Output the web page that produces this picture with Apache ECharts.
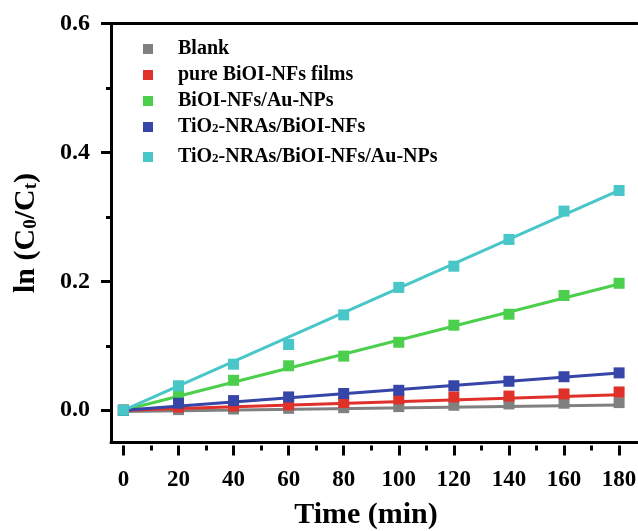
<!DOCTYPE html>
<html>
<head>
<meta charset="utf-8" />
<title>ln(C0/Ct)</title>
<script src="https://cdn.jsdelivr.net/npm/echarts@6/dist/echarts.min.js"></script>
</head>
<body style="margin:0;">
<div id="main" style="width:638px;height:531px;"></div>
<script type="text/javascript">
// time axis (min)
var times = [0, 20, 40, 60, 80, 100, 120, 140, 160, 180];
var xMajor = [0, 20, 40, 60, 80, 100, 120, 140, 160, 180];
var xMinor = [10, 30, 50, 70, 90, 110, 130, 150, 170];
var yMajor = [0, 0.2, 0.4, 0.6];
var yMinor = [0.1, 0.3, 0.5];

var names = ['Blank', 'pure BiOI-NFs films', 'BiOI-NFs/Au-NPs', 'TiO2-NRAs/BiOI-NFs', 'TiO2-NRAs/BiOI-NFs/Au-NPs'];
var colors = ['#808080', '#e0302a', '#4bcf4d', '#3645a8', '#48c6c8'];

// measured points
var blank = [0, 0.001, 0.002, 0.003, 0.004, 0.0057, 0.0078, 0.0098, 0.0109, 0.0119];
var pureBiOI = [0, 0.005, 0.0067, 0.0085, 0.012, 0.0176, 0.0207, 0.022, 0.0253, 0.0284];
var biOIAu = [0, 0.025, 0.0465, 0.069, 0.084, 0.1055, 0.132, 0.149, 0.178, 0.197];
var tiO2BiOI = [0, 0.011, 0.015, 0.0207, 0.026, 0.031, 0.038, 0.045, 0.052, 0.058];
var tiO2BiOIAu = [0, 0.038, 0.0715, 0.102, 0.148, 0.1906, 0.2235, 0.265, 0.309, 0.341];

// fitted lines, value at t=0 and t=180
var fitX = [0, 180];
var blankFit = [-0.002, 0.008];
var pureBiOIFit = [0, 0.024];
var biOIAuFit = [0, 0.196];
var tiO2BiOIFit = [0, 0.058];
var tiO2BiOIAuFit = [0, 0.341];

var allPoints = [blank, pureBiOI, biOIAu, tiO2BiOI, tiO2BiOIAu];
var allFits = [blankFit, pureBiOIFit, biOIAuFit, tiO2BiOIFit, tiO2BiOIAuFit];

var font = 'Liberation Serif';
var xMin = -4.5, xMax = 186.5, yMin = -0.05, yMax = 0.6;

var series = [];
for (var i = 0; i < names.length; i++) {
	var pts = [];
	for (var j = 0; j < times.length; j++) {
		pts.push([times[j], allPoints[i][j]]);
	}
	var fit = [];
	for (var k = 0; k < fitX.length; k++) {
		fit.push([fitX[k], allFits[i][k]]);
	}
	series.push({
		name: names[i] + '_fit',
		type: 'line',
		data: fit,
		showSymbol: false,
		silent: true,
		lineStyle: { color: colors[i], width: 3 },
		z: 2
	});
	series.push({
		name: names[i],
		type: 'scatter',
		data: pts,
		symbol: 'rect',
		symbolSize: 11,
		itemStyle: { color: colors[i], opacity: 1 },
		z: 3
	});
}

function legendFmt(name) {
	return name.replace('TiO2', 'TiO{sub|2}');
}
var legendText = {
	fontFamily: font,
	fontWeight: 'bold',
	fontSize: 20,
	color: '#000',
	lineHeight: 17,
	padding: [0, 0, 0, 20],
	rich: {
		sub: { fontFamily: font, fontWeight: 'bold', fontSize: 13, lineHeight: 17, verticalAlign: 'bottom', color: '#000' }
	}
};

var myChart = echarts.init(document.getElementById('main'));
var option = {
	animation: false,
	backgroundColor: '#fff',
	grid: { left: 111, right: 1, top: 23.5, bottom: 88.5, outerBoundsMode: 'none', containLabel: false },
	legend: [{
		data: names.slice(0, 4),
		orient: 'vertical',
		left: 138,
		top: 34,
		icon: 'rect',
		itemWidth: 10,
		itemHeight: 10,
		itemGap: 6,
		selectedMode: false,
		formatter: legendFmt,
		textStyle: legendText
	}, {
		data: names.slice(4),
		orient: 'vertical',
		left: 138,
		top: 142,
		icon: 'rect',
		itemWidth: 10,
		itemHeight: 10,
		selectedMode: false,
		formatter: legendFmt,
		textStyle: legendText
	}],
	xAxis: [{
		// ticks + labels, slightly below the frame
		type: 'value',
		min: xMin, max: xMax,
		position: 'bottom',
		offset: 3,
		axisLine: { show: false, onZero: false },
		splitLine: { show: false },
		axisTick: { show: true, customValues: xMajor, length: 10, lineStyle: { color: '#000', width: 3 } },
		axisLabel: {
			customValues: xMajor, margin: 23,
			fontFamily: font, fontWeight: 'bold', fontSize: 23, color: '#000'
		},
		name: 'Time (min)',
		nameLocation: 'middle',
		nameGap: 55,
		nameTextStyle: { fontFamily: font, fontWeight: 'bold', fontSize: 30, color: '#000', padding: [0, 16, 0, 0] }
	}, {
		// minor ticks
		type: 'value',
		min: xMin, max: xMax,
		position: 'bottom',
		offset: 3,
		axisLine: { show: false, onZero: false },
		splitLine: { show: false },
		axisTick: { show: true, customValues: xMinor, length: 5, lineStyle: { color: '#000', width: 3 } },
		axisLabel: { show: false }
	}, {
		// frame bottom line
		type: 'value',
		min: xMin, max: xMax,
		position: 'bottom',
		axisLine: { show: true, onZero: false, lineStyle: { color: '#000', width: 3 } },
		splitLine: { show: false },
		axisTick: { show: false },
		axisLabel: { show: false }
	}, {
		// frame top line
		type: 'value',
		min: xMin, max: xMax,
		position: 'top',
		axisLine: { show: true, onZero: false, lineStyle: { color: '#000', width: 3 } },
		splitLine: { show: false },
		axisTick: { show: false },
		axisLabel: { show: false }
	}],
	yAxis: [{
		type: 'value',
		min: yMin, max: yMax,
		position: 'left',
		axisLine: { show: true, onZero: false, lineStyle: { color: '#000', width: 3 } },
		splitLine: { show: false },
		axisTick: { show: true, customValues: yMajor, length: 10, lineStyle: { color: '#000', width: 3 } },
		axisLabel: {
			customValues: yMajor, margin: 21,
			formatter: function (v) { return v.toFixed(1); },
			fontFamily: font, fontWeight: 'bold', fontSize: 24, color: '#000'
		},
		name: '{n|ln (C}{s|0}{n|/C}{s|t}{n|)}',
		nameLocation: 'middle',
		nameGap: 70,
		nameRotate: 90,
		nameTextStyle: {
			rich: {
				n: { fontFamily: font, fontWeight: 'bold', fontSize: 30, color: '#000', lineHeight: 30 },
				s: { fontFamily: font, fontWeight: 'bold', fontSize: 19, color: '#000', lineHeight: 30, verticalAlign: 'bottom' }
			}
		}
	}, {
		type: 'value',
		min: yMin, max: yMax,
		position: 'left',
		axisLine: { show: false, onZero: false },
		splitLine: { show: false },
		axisTick: { show: true, customValues: yMinor, length: 5, lineStyle: { color: '#000', width: 3 } },
		axisLabel: { show: false }
	}],
	series: series
};
myChart.setOption(option);
</script>
</body>
</html>
